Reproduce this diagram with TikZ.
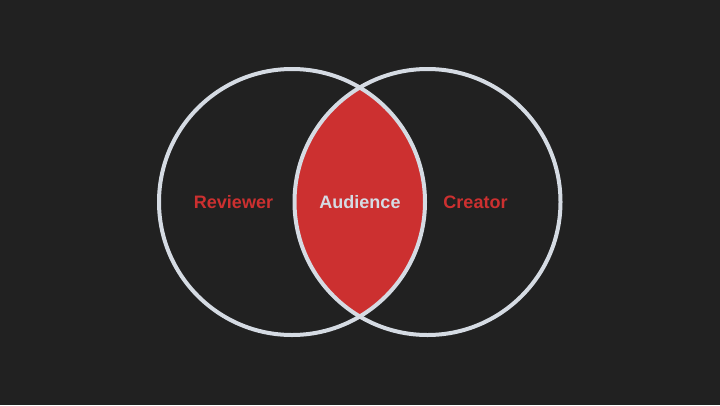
\documentclass[tikz,border=0pt]{standalone}
\usepackage{fontspec}
\setmainfont{Liberation Sans}
\usetikzlibrary{positioning}
\definecolor{bgdark}{HTML}{212121}
\definecolor{ring}{HTML}{D5DBE3}
\definecolor{venred}{HTML}{CC3030}

\begin{document}
\begin{tikzpicture}[x=1pt, y=-1pt,
		setname/.style={font=\bfseries\fontsize{18}{20}\selectfont, text=venred},
		ringline/.style={draw=ring, line width=4pt}]
	\fill[bgdark] (0,0) rectangle (720,405);
	\coordinate (rev) at (292,202);
	\coordinate (cre) at (427.5,202);

	% overlap of the two sets
	\begin{scope}
		\clip (rev) circle[radius=133pt];
		\fill[venred] (cre) circle[radius=133pt];
	\end{scope}
	\draw[ringline] (rev) circle[radius=133pt];
	\draw[ringline] (cre) circle[radius=133pt];

	\node[setname] (reviewer) at (233.5,202) {Reviewer};
	\node[setname, text=ring] (audience) at (360,202) {Audience};
	\node[setname] (creator) at (475.5,202) {Creator};
\end{tikzpicture}
\end{document}
